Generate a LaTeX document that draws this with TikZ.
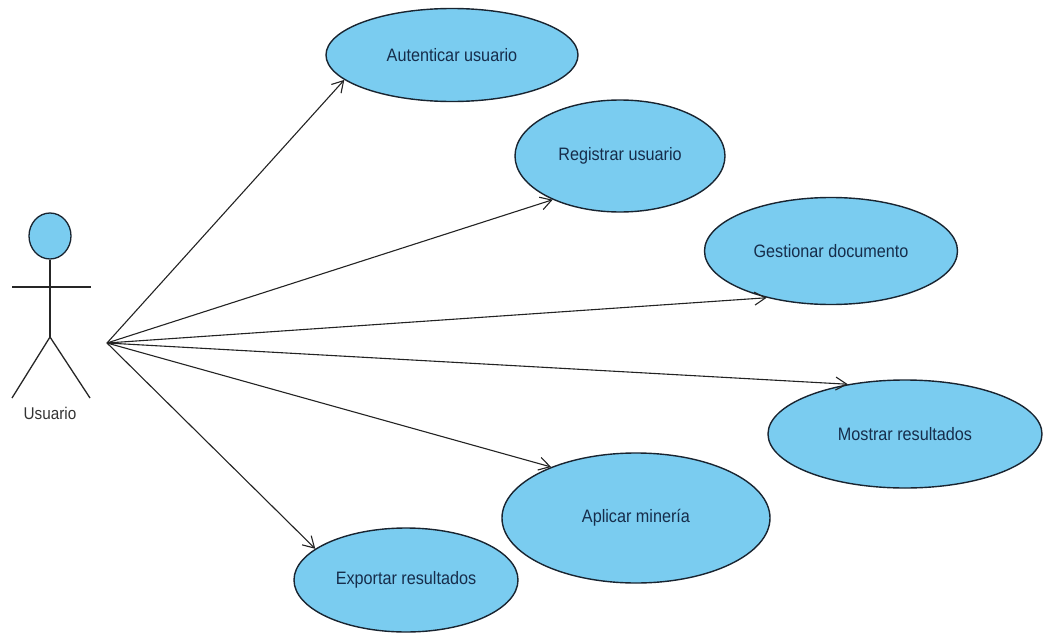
\documentclass[tikz,border=0pt]{standalone}
\usepackage{fontspec}
\setmainfont{Liberation Sans}
\newfontfamily\ucfont[FakeStretch=0.9]{Liberation Sans}
\usetikzlibrary{shapes.geometric,arrows.meta}
\definecolor{ucfill}{RGB}{122,204,240}
\definecolor{ucline}{RGB}{25,36,48}
\definecolor{uctext}{RGB}{22,45,75}
\definecolor{wire}{RGB}{35,35,35}
\begin{document}
\begin{tikzpicture}[x=1pt,y=-1pt,
  usecase/.style={ellipse,draw=ucline,fill=ucfill,line width=1.4pt,inner sep=0pt,
    text=uctext,font=\ucfont\fontsize{18}{21}\selectfont},
  assoc/.style={draw=wire,line width=1.1pt,
    -{Straight Barb[length=11pt,width=13pt,line width=1.1pt]}},
  stick/.style={draw=black!85,line width=1.3pt}]
\useasboundingbox (0,0) rectangle (1045,637);

% use cases
\node[usecase,minimum width=252pt,minimum height=93pt] (auth) at (452,55) {Autenticar usuario};
\node[usecase,minimum width=210pt,minimum height=112pt] (reg) at (620,156) {Registrar usuario};
\node[usecase,minimum width=253pt,minimum height=107pt] (gest) at (831,251) {Gestionar documento};
\node[usecase,minimum width=274pt,minimum height=108pt] (most) at (905,434) {Mostrar resultados};
\node[usecase,minimum width=268pt,minimum height=130pt] (apl) at (636,518) {Aplicar miner\'{\i}a};
\node[usecase,minimum width=224pt,minimum height=104pt] (exp) at (406,580) {Exportar resultados};

% actor
\node[ellipse,draw=ucline,fill=ucfill,line width=1.3pt,minimum width=42pt,minimum height=46pt,inner sep=0pt] (head) at (50,236) {};
\coordinate (hip) at (50,337);
\coordinate (armL) at (12,287);
\coordinate (armR) at (91,287);
\coordinate (footL) at (12,398);
\coordinate (footR) at (90,398);
\draw[stick] (head.south) -- (hip);
\draw[stick] (armL) -- (armR);
\draw[stick] (footL) -- (hip) -- (footR);
\node[text=black!80,font=\ucfont\fontsize{17}{20}\selectfont] (actor) at (50,413) {Usuario};

% associations
\coordinate (hub) at (107,343);
\draw[assoc] (hub) -- (auth.193);
\draw[assoc] (hub) -- (reg.213);
\draw[assoc] (hub) -- (gest.216);
\draw[assoc] (hub) -- (most.139);
\draw[assoc] (hub) -- (apl.149);
\draw[assoc] (hub) -- (exp.161);
\end{tikzpicture}
\end{document}
